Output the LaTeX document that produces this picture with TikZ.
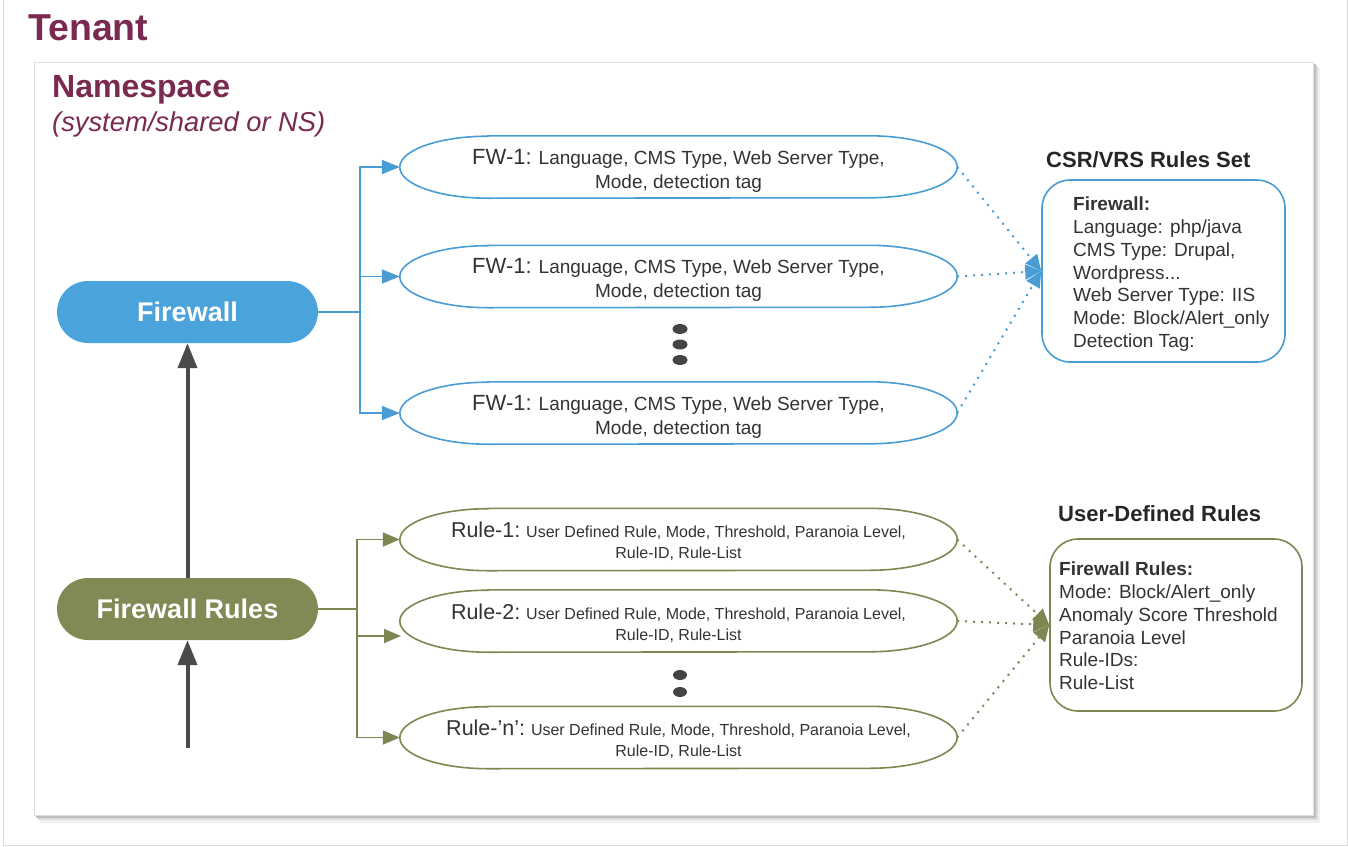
\documentclass[tikz,border=0pt]{standalone}
\usepackage{fontspec}
\setmainfont{Liberation Sans}
\usetikzlibrary{arrows.meta,shapes.misc,shapes.geometric}
\definecolor{maroon}{HTML}{7A2A50}
\definecolor{fwblue}{HTML}{4BA3DC}
\definecolor{lblue}{HTML}{4A9DD4}
\definecolor{olive}{HTML}{838954}
\definecolor{lolive}{HTML}{7F8651}
\definecolor{darkarr}{HTML}{4A4A4A}
\definecolor{txt}{HTML}{333333}
\definecolor{dotc}{HTML}{444444}
\newcommand\capsuleline[3]{%
  \draw[#2, line width=1.6pt] ([xshift=#3]#1.north west) -- ([xshift=-#3]#1.north east)
    arc[start angle=90,end angle=-90,x radius=#3,y radius=31pt]
    -- ([xshift=#3]#1.south west)
    arc[start angle=270,end angle=90,x radius=#3,y radius=31pt] -- cycle;}
\newcommand\fwlabel{\rule{0pt}{22pt}{\fontsize{22}{24}\selectfont FW-1:} Language, CMS Type, Web Server Type,\\Mode, detection tag}
\newcommand\rulelabel[1]{\rule{0pt}{19.5pt}{\fontsize{21.5}{21}\selectfont #1:} User Defined Rule, Mode, Threshold, Paranoia Level,\\Rule-ID, Rule-List}
\begin{document}
\begin{tikzpicture}[x=1pt,y=-1pt,
  pill/.style={rounded rectangle, minimum width=261pt, minimum height=62pt, inner sep=0pt,
    text=white, font=\fontsize{27}{30}\selectfont\bfseries},
  capsule/.style={minimum width=557pt, minimum height=62pt, inner sep=0pt, align=center, text=txt},
  fwtext/.style={capsule, font=\fontsize{19}{24}\selectfont},
  rutext/.style={capsule, font=\fontsize{16}{21}\selectfont},
  rbox/.style={rounded corners=28pt, line width=1.6pt, inner sep=0pt},
  boxtxt/.style={anchor=north west, align=left, inner sep=0pt, text=txt, font=\fontsize{19}{22.7}\selectfont},
  title/.style={anchor=base west, inner sep=0pt, text=black!85, font=\fontsize{22}{26}\selectfont\bfseries},
  darkarrow/.style={draw=darkarr, line width=4pt, -{Triangle[length=25pt,width=19pt]}},
  bline/.style={draw=lblue, line width=1.8pt},
  btip/.style={bline, -{Triangle[length=18pt,width=14pt]}},
  oline/.style={draw=lolive, line width=1.8pt},
  otip/.style={oline, -{Triangle[length=17pt,width=14pt]}},
  bdot/.style={draw=lblue, line width=2pt, dash pattern=on 2pt off 6pt, -{Triangle[length=16pt,width=15pt]}},
  odot/.style={draw=lolive, line width=2pt, dash pattern=on 2pt off 6pt, -{Triangle[length=16pt,width=15pt]}},
  dotnode/.style={ellipse, fill=dotc, inner sep=0pt, minimum width=15pt, minimum height=10pt}
]
\useasboundingbox (0,0) rectangle (1348,846);
% outer frame
\draw[black!15, line width=1pt] (3,0) -- (3,845) -- (1347,845) -- (1347,0);
% namespace panel with shadow
\fill[black!6] (40,68) rectangle (1320,823);
\fill[black!14] (38,66) rectangle (1318,820);
\fill[black!26] (36,64) rectangle (1315.5,817.5);
\fill[white] (34,62) rectangle (1313,815);
\draw[black!12, line width=1pt] (34,62) rectangle (1313,815);

% titles
\node[anchor=base west, inner sep=0pt, text=maroon, font=\fontsize{37.5}{40}\selectfont\bfseries] (tenant) at (28,40) {Tenant};
\node[anchor=base west, inner sep=0pt, text=maroon, font=\fontsize{32}{34}\selectfont\bfseries] (ns) at (52,97) {Namespace};
\node[anchor=base west, inner sep=0pt, text=maroon, font=\fontsize{27.3}{30}\selectfont\itshape] (nssub) at (52,131) {(system/shared or NS)};

% pills
\node[pill, fill=fwblue] (fw) at (187.5,312) {Firewall};
\node[pill, fill=olive] (fwr) at (187.5,609) {Firewall Rules};

% vertical arrows
\coordinate (bot) at (187.5,748);
\draw[darkarrow] (fwr.north) -- (fw.south);
\draw[darkarrow] (bot) -- (fwr.south);

% FW ellipses
\node[fwtext] (f1) at (678.5,167) {\fwlabel};
\node[fwtext] (f2) at (678.5,276.5) {\fwlabel};
\node[fwtext] (f3) at (678.5,413) {\fwlabel};
\capsuleline{f1}{lblue}{88pt}
\capsuleline{f2}{lblue}{88pt}
\capsuleline{f3}{lblue}{88pt}

% Rule ellipses
\node[rutext] (r1) at (678.5,539.5) {\rulelabel{Rule-1}};
\node[rutext] (r2) at (678.5,621) {\rulelabel{Rule-2}};
\node[rutext] (rn) at (678.5,737.5) {\rulelabel{Rule-’n’}};
\capsuleline{r1}{lolive}{88pt}
\capsuleline{r2}{lolive}{88pt}
\capsuleline{rn}{lolive}{88pt}

% dots
\node[dotnode] (d1) at (680,329) {};
\node[dotnode] (d2) at (680,344.5) {};
\node[dotnode] (d3) at (680,360) {};
\node[dotnode, minimum width=14pt] (d4) at (680,675) {};
\node[dotnode, minimum width=14pt] (d5) at (680,692) {};

% blue connectors
\coordinate (bj) at (360,312);
\draw[bline] (fw.east) -- (bj);
\draw[btip] (bj) |- (f1.west);
\draw[btip] (bj) |- (f2.west);
\draw[btip] (bj) |- (f3.west);

% olive connectors
\coordinate (oj) at (357,609);
\coordinate (r2in) at (401,636);
\draw[oline] (fwr.east) -- (oj);
\draw[otip] (oj) |- (r1.west);
\draw[otip] (oj) |- (r2in);
\draw[otip] (oj) |- (rn.west);

% CSR/VRS box
\node[title] (csrt) at (1046,167) {CSR/VRS Rules Set};
\node[rbox, draw=lblue, minimum width=243pt, minimum height=182pt] (csr) at (1163.5,271) {};
\node[boxtxt] (csrtxt) at (1073,197) {{\bfseries Firewall:}\\Language: php/java\\CMS Type: Drupal,\\Wordpress...\\Web Server Type: IIS\\Mode: Block/Alert\_only\\Detection Tag:};

% User-defined box
\node[title] (udrt) at (1058,521) {User-Defined Rules};
\node[rbox, draw=lolive, minimum width=252pt, minimum height=172pt] (udr) at (1176,625) {};
\node[boxtxt] (udrtxt) at (1059,562) {{\bfseries Firewall Rules:}\\Mode: Block/Alert\_only\\Anomaly Score Threshold\\Paranoia Level\\Rule-IDs:\\Rule-List};

% dotted connectors
\draw[bdot] (f1.east) -- (csr.west);
\draw[bdot] (f2.east) -- (csr.west);
\draw[bdot] (f3.east) -- (csr.west);
\draw[odot] (r1.east) -- (udr.west);
\draw[odot] (r2.east) -- (udr.west);
\draw[odot] (rn.east) -- (udr.west);
\end{tikzpicture}
\end{document}
